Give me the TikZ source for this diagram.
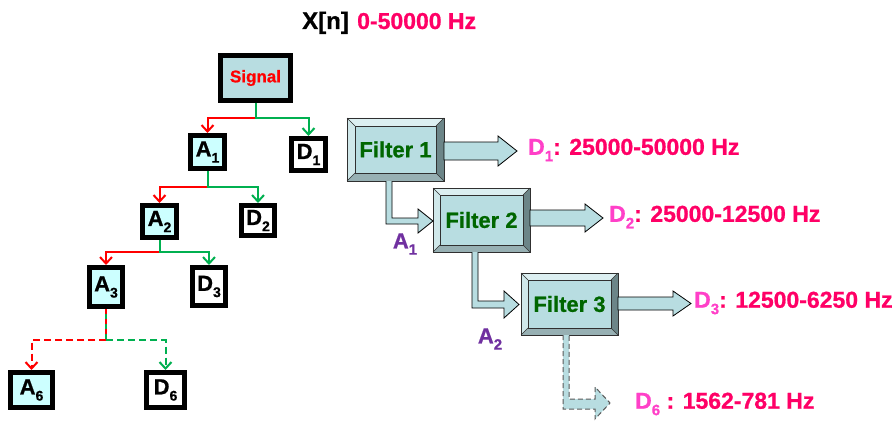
\documentclass[tikz,border=0pt]{standalone}
\usepackage{fontspec}
\setmainfont{Liberation Sans}[BoldFeatures={FakeBold=0.8}]
\usetikzlibrary{arrows.meta}
\definecolor{sigfill}{HTML}{B8DDE1}
\definecolor{afill}{HTML}{CCFFFF}
\definecolor{myred}{HTML}{FF0000}
\definecolor{mygreen}{HTML}{00B050}
\definecolor{hz}{HTML}{FF0066}
\definecolor{dpink}{HTML}{FF40C8}
\definecolor{fgreen}{HTML}{006600}
\definecolor{purp}{HTML}{7030A0}
\definecolor{bevlight}{HTML}{DCEFF1}
\definecolor{bevleft}{HTML}{D0E8EA}
\definecolor{bevdark}{HTML}{6C8588}
\definecolor{bevbot}{HTML}{97B0B3}
\definecolor{edge}{HTML}{303030}
\newcommand\fs[1]{\fontsize{#1}{#1}\selectfont}
\newcommand\lowsub[2]{\raisebox{-0.28em}{\fs{#1}#2}}
\newcommand\filterbevel[2]{%
 \fill[bevlight] (#1.north west) -- (#1.north east) -- ([xshift=-#2pt,yshift=-#2pt]#1.north east) -- ([xshift=#2pt,yshift=-#2pt]#1.north west) -- cycle;
 \fill[bevleft] (#1.north west) -- ([xshift=#2pt,yshift=-#2pt]#1.north west) -- ([xshift=#2pt,yshift=#2pt]#1.south west) -- (#1.south west) -- cycle;
 \fill[bevdark] (#1.north east) -- (#1.south east) -- ([xshift=-#2pt,yshift=#2pt]#1.south east) -- ([xshift=-#2pt,yshift=-#2pt]#1.north east) -- cycle;
 \fill[bevbot] (#1.south west) -- (#1.south east) -- ([xshift=-#2pt,yshift=#2pt]#1.south east) -- ([xshift=#2pt,yshift=#2pt]#1.south west) -- cycle;
 \draw[edge, line width=0.9pt] (#1.north west) rectangle (#1.south east);
 \draw[edge, line width=0.6pt] ([xshift=#2pt,yshift=-#2pt]#1.north west) rectangle ([xshift=-#2pt,yshift=#2pt]#1.south east);
 \draw[edge, line width=0.6pt] (#1.north west) -- ([xshift=#2pt,yshift=-#2pt]#1.north west)
   (#1.north east) -- ([xshift=-#2pt,yshift=-#2pt]#1.north east)
   (#1.south west) -- ([xshift=#2pt,yshift=#2pt]#1.south west)
   (#1.south east) -- ([xshift=-#2pt,yshift=#2pt]#1.south east);
}
\begin{document}
\begin{tikzpicture}[x=1pt,y=-1pt, font=\bfseries,
  treebox/.style={draw=black, line width=5pt, inner sep=0pt, font=\fs{22}\bfseries},
  abox/.style={treebox, fill=afill},
  dbox/.style={treebox, fill=white},
  redline/.style={draw=myred, line width=2pt},
  greenline/.style={draw=mygreen, line width=2pt},
  tiparrow/.style={-{Straight Barb[length=6.5pt,width=12pt]}},
  dashline/.style={dash pattern=on 7pt off 4pt},
  filterbox/.style={fill=sigfill, inner sep=0pt, outer sep=0pt, minimum width=97pt, text=fgreen, font=\fs{22}\bfseries},
  blockarrow/.style={fill=sigfill, draw=black, line width=0.8pt, line join=miter},
  hzlabel/.style={anchor=west, inner sep=0pt, text=hz, font=\fs{23}\bfseries},
  alabel/.style={text=purp, inner sep=0pt, font=\fs{22}\bfseries},
]
\fill[white] (0,0) rectangle (896,425);
\useasboundingbox (0,0) rectangle (896,425);

% title
\node[anchor=base west, inner sep=0pt, font=\fs{24}\bfseries] (xn) at (302,29) {X[n]};
\node[anchor=base west, inner sep=0pt, text=hz, font=\fs{23}\bfseries] (range) at (357,29) {0-50000 Hz};

% tree
\node[treebox, fill=sigfill, minimum width=70pt, minimum height=45pt, font=\fs{17}\bfseries, text=myred] (sig) at (255.5,78) {Signal};
\node[abox, minimum width=34pt, minimum height=33pt] (a1) at (207.5,152) {A\lowsub{14}{1}};
\node[dbox, minimum width=34pt, minimum height=32pt] (d1) at (308.5,154.5) {D\lowsub{14}{1}};
\node[abox, minimum width=34pt, minimum height=32pt] (a2) at (159.5,221.5) {A\lowsub{14}{2}};
\node[dbox, minimum width=33pt, minimum height=30pt] (d2) at (258,220.5) {D\lowsub{14}{2}};
\node[abox, minimum width=33pt, minimum height=39pt] (a3) at (106,287) {A\lowsub{14}{3}};
\node[dbox, minimum width=33pt, minimum height=38pt] (d3) at (209,286.5) {D\lowsub{14}{3}};
\node[abox, minimum width=42pt, minimum height=35pt] (a6) at (31.5,390) {A\lowsub{14}{6}};
\node[dbox, minimum width=38pt, minimum height=35pt] (d6) at (165.5,390) {D\lowsub{14}{6}};

\coordinate (j1) at (0,118);
\coordinate (j2) at (0,187);
\coordinate (j3) at (0,252);
\coordinate (j4) at (0,340);

\draw[redline,tiparrow] (sig.south |- j1) -| (a1.north);
\draw[greenline,tiparrow] (sig.south) -- (sig.south |- j1) -| (d1.north);
\draw[redline,tiparrow] (a1.south |- j2) -| (a2.north);
\draw[greenline,tiparrow] (a1.south) -- (a1.south |- j2) -| (d2.north);
\draw[redline,tiparrow] (a2.south |- j3) -| (a3.north);
\draw[greenline,tiparrow] (a2.south) -- (a2.south |- j3) -| (d3.north);
\draw[redline, dash pattern=on 5pt off 5pt] (a3.south) -- (a3.south |- j4);
\draw[greenline, dash pattern=on 5pt off 5pt, dash phase=5pt] (a3.south) -- (a3.south |- j4);
\draw[redline,dashline,tiparrow] (a3.south |- j4) -| (a6.north);
\draw[greenline,dashline,tiparrow] (a3.south |- j4) -| (d6.north);

% filters
\node[filterbox, minimum height=63pt] (f1) at (395.5,149.5) {Filter 1};
\filterbevel{f1}{8}
\node[filterbox, minimum height=64pt] (f2) at (481.5,220) {Filter 2};
\filterbevel{f2}{7}
\node[filterbox, minimum height=62pt] (f3) at (569.5,304) {Filter 3};
\filterbevel{f3}{7}

% labels
\node[hzlabel] (l1) at (528,150) {\textcolor{dpink}{D\lowsub{15}{1}}: 25000-50000 Hz};
\node[hzlabel] (l2) at (609,217) {\textcolor{dpink}{D\lowsub{15}{2}}: 25000-12500 Hz};
\node[hzlabel] (l3) at (694,303) {\textcolor{dpink}{D\lowsub{15}{3}}: 12500-6250 Hz};
\node[hzlabel] (l6) at (635,404) {\textcolor{dpink}{D\lowsub{15}{6}} : 1562-781 Hz};
\node[alabel] (la1) at (405,244) {A\lowsub{15}{1}};
\node[alabel] (la2) at (490,339) {A\lowsub{15}{2}};

% block arrows
\draw[blockarrow] (f1.east |- 0,142) -- (498,142) -- (498,136) -- (517,151) -- (498,166) -- (498,160) -- (f1.east |- 0,160) -- cycle;
\draw[blockarrow] (f2.east |- 0,210) -- (585,210) -- (585,204) -- (603,218) -- (585,232) -- (585,226) -- (f2.east |- 0,226) -- cycle;
\draw[blockarrow] (f3.east |- 0,297) -- (673,297) -- (673,291) -- (691,303.5) -- (673,316) -- (673,310) -- (f3.east |- 0,310) -- cycle;
\draw[blockarrow] (386,181) -- (386,224) -- (418,224) -- (418,233) -- (433,221) -- (418,209) -- (418,218) -- (392,218) -- (392,181);
\draw[blockarrow] (472,252) -- (472,308) -- (504,308) -- (504,318) -- (519,304.5) -- (504,291) -- (504,301) -- (478,301) -- (478,252);
\draw[blockarrow, draw=black!65, line width=1pt, dash pattern=on 5pt off 3pt] (563,335) -- (563,409) -- (595,409) -- (595,419) -- (610,403) -- (595,387) -- (595,399) -- (569,399) -- (569,335);
\end{tikzpicture}
\end{document}
